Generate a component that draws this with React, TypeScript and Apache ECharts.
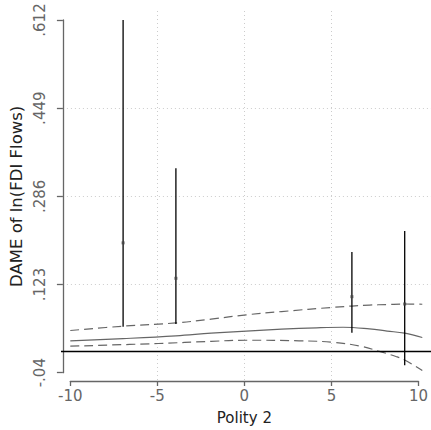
import React, { useEffect, useRef } from "react";
import * as echarts from "echarts";

// Spikes at selected Polity 2 values: [x, low, high, point]
const spikeX = [-7, -4, 6, 9];
const spikeLow = [0.045, 0.05, 0.034, -0.026];
const spikeHigh = [0.612, 0.338, 0.183, 0.222];
const spikePoint = [0.2, 0.1345, 0.1005, 0.087];

// Smooth DAME curve and confidence band
const curveX = [-10, -7, -4, -2, 0, 2, 4, 5.5, 7, 8, 9, 10];
const curveMid = [0.019, 0.023, 0.028, 0.033, 0.037, 0.0405, 0.043, 0.044, 0.041, 0.037, 0.033, 0.025];
const upperX = [-10, -7, -4, -2, 0, 2, 5, 7, 8, 9, 10];
const curveUpper = [0.038, 0.046, 0.052, 0.059, 0.067, 0.073, 0.081, 0.085, 0.086, 0.087, 0.0865];
const lowerX = [-10, -5, -2, 0, 3, 5, 6.5, 7.5, 8.5, 9, 10];
const curveLower = [0.009, 0.014, 0.018, 0.02, 0.019, 0.016, 0.009, 0.0, -0.01, -0.0165, -0.036];

// Axis ticks
const xTicksMin = -10;
const xTicksMax = 10;
const xTickStep = 5;
const yTickMin = -0.04;
const yTickMax = 0.612;
const yTickStep = 0.163;

const FONT = "DejaVu Sans";

export default function App() {
  const ref = useRef<HTMLDivElement>(null);
  useEffect(() => {
    if (!ref.current) return;
    const chart = echarts.init(ref.current, null, { renderer: "svg" });

    const pxPerX = 17.6;
    const pxPerY = 540.9;
    const xMin = xTicksMin - 9.3 / pxPerX;
    const xMax = xTicksMax + 8.7 / pxPerX;
    const yMin = yTickMin - 9.3 / pxPerY;
    const yMax = yTickMax + 9 / pxPerY;

    const fmtY = (v: number) => {
      const val = Number((v + yTickMin).toFixed(3));
      return String(val).replace(/^(-?)0\./, "$1.");
    };

    const spikeData = spikeX.map((x, i) => [x, spikeLow[i], spikeHigh[i]]);

    chart.setOption({
      animation: false,
      backgroundColor: "#fff",
      textStyle: { fontFamily: FONT },
      grid: [
        { left: 61, right: 0, top: 11, bottom: 48 },
        { left: 70.3, right: 8.7, top: 11, bottom: 48 },
        { left: 61, right: 0, top: 20, bottom: 57.3 },
      ],
      xAxis: [
        { type: "value", gridIndex: 0, min: xMin, max: xMax, show: false },
        {
          type: "value",
          gridIndex: 1,
          min: xTicksMin,
          max: xTicksMax,
          interval: xTickStep,
          axisLine: { show: true, onZero: false, lineStyle: { color: "#666", width: 1.3 } },
          axisTick: { show: true, length: 5, lineStyle: { color: "#666", width: 1.3 } },
          axisLabel: {
            color: "#666",
            fontSize: 15,
            fontFamily: FONT,
            margin: 7,
            showMinLabel: true,
            showMaxLabel: true,
          },
          splitLine: {
            show: true,
            showMinLine: false,
            showMaxLine: false,
            lineStyle: { color: "#ccc", type: [1, 3], width: 1 },
          },
          name: "Polity 2",
          nameLocation: "middle",
          nameGap: 29,
          nameTextStyle: { color: "#222", fontSize: 15, fontFamily: FONT },
        },
        { type: "value", gridIndex: 2, min: 0, max: 1, show: false },
      ],
      yAxis: [
        { type: "value", gridIndex: 0, min: yMin, max: yMax, show: false },
        { type: "value", gridIndex: 1, min: 0, max: 1, show: false },
        {
          type: "value",
          gridIndex: 2,
          min: 0,
          max: Number((yTickMax - yTickMin).toFixed(3)),
          interval: yTickStep,
          axisLine: { show: true, onZero: false, lineStyle: { color: "#666", width: 1.3 } },
          axisTick: { show: true, length: 6, lineStyle: { color: "#666", width: 1.3 } },
          axisLabel: {
            color: "#666",
            fontSize: 15,
            fontFamily: FONT,
            rotate: 90,
            margin: 15,
            formatter: fmtY,
            showMinLabel: true,
            showMaxLabel: true,
          },
          splitLine: {
            show: true,
            showMinLine: false,
            showMaxLine: false,
            lineStyle: { color: "#ccc", type: [1, 3], width: 1 },
          },
          name: "DAME of ln(FDI Flows)",
          nameLocation: "middle",
          nameGap: 31,
          nameRotate: 90,
          nameTextStyle: { color: "#222", fontSize: 16.5, fontFamily: FONT },
        },
      ],
      series: [
        {
          type: "line",
          xAxisIndex: 0,
          yAxisIndex: 0,
          data: lowerX.map((x, i) => [x, curveLower[i]]),
          smooth: 0.4,
          showSymbol: false,
          lineStyle: { color: "#666", width: 1.2, type: [9, 5] },
          markLine: {
            silent: true,
            symbol: "none",
            label: { show: false },
            lineStyle: { color: "#000", width: 1.4, type: "solid" },
            data: [{ yAxis: 0 }],
          },
          z: 3,
        },
        {
          type: "line",
          xAxisIndex: 0,
          yAxisIndex: 0,
          data: upperX.map((x, i) => [x, curveUpper[i]]),
          smooth: 0.4,
          showSymbol: false,
          lineStyle: { color: "#666", width: 1.2, type: [9, 5] },
          z: 3,
        },
        {
          type: "line",
          xAxisIndex: 0,
          yAxisIndex: 0,
          data: curveX.map((x, i) => [x, curveMid[i]]),
          smooth: 0.4,
          showSymbol: false,
          lineStyle: { color: "#666", width: 1.2 },
          z: 3,
        },
        {
          type: "custom",
          xAxisIndex: 0,
          yAxisIndex: 0,
          data: spikeData,
          renderItem: (params: any, api: any) => {
            const p1 = api.coord([api.value(0), api.value(1)]);
            const p2 = api.coord([api.value(0), api.value(2)]);
            return {
              type: "line",
              shape: { x1: p1[0], y1: p1[1], x2: p2[0], y2: p2[1] },
              style: { stroke: "#000", lineWidth: 1.3 },
            };
          },
          z: 4,
        },
        {
          type: "scatter",
          xAxisIndex: 0,
          yAxisIndex: 0,
          data: spikeX.map((x, i) => [x, spikePoint[i]]),
          symbol: "rect",
          symbolSize: 3,
          itemStyle: { color: "#444" },
          z: 5,
        },
      ],
    });
    return () => chart.dispose();
  }, []);
  return (
    <div
      ref={ref}
      style={{ position: "fixed", left: 0, top: 0, width: 431, height: 430 }}
    />
  );
}
